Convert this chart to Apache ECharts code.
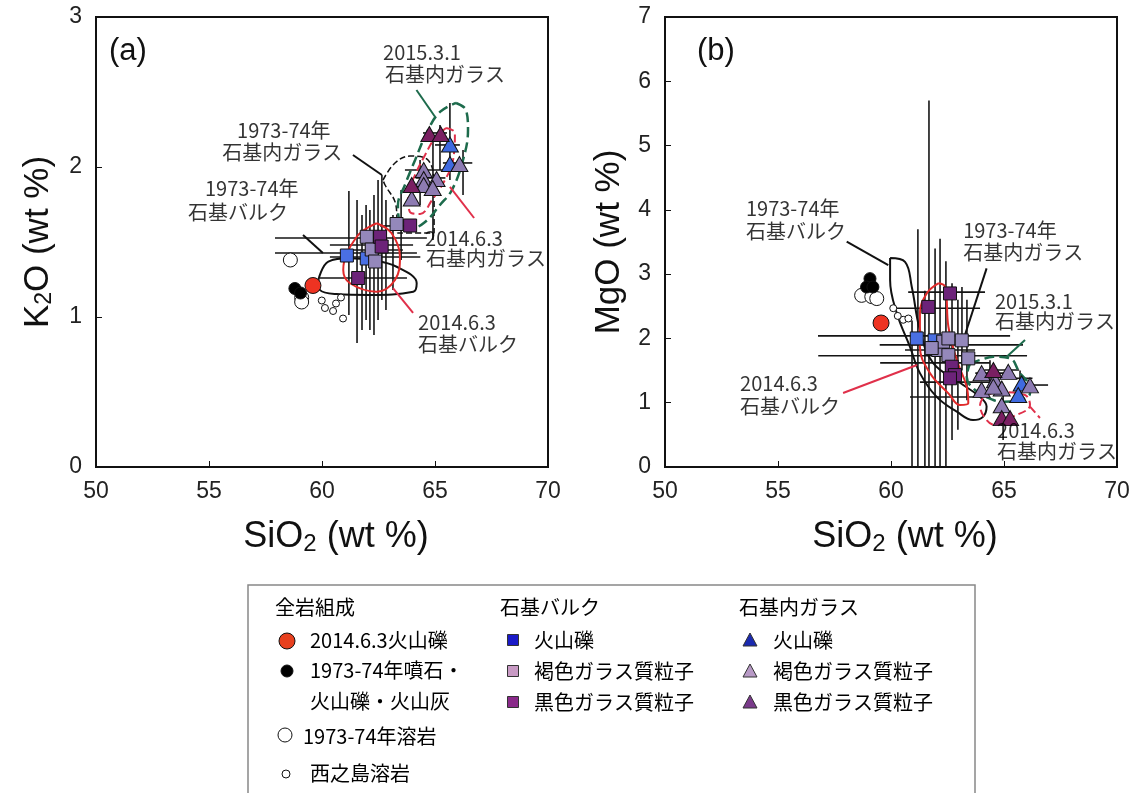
<!DOCTYPE html>
<html>
<head>
<meta charset="utf-8">
<script src="https://cdn.jsdelivr.net/npm/echarts@6/dist/echarts.min.js"></script>
<style>
  html, body { margin: 0; background: #fff; }
  #main { width: 1137px; height: 793px; }
</style>
</head>
<body>
<div id="main"></div>
<script>
// ---- panel (a): SiO2 vs K2O ----
var wrRedA = [[59.6, 1.21]];
var wrBlackA = [[58.8, 1.19], [59.05, 1.16]];
var wrOpenA = [[58.6, 1.38], [59.1, 1.13], [59.1, 1.10]];
var wrSmallA = [[59.99, 1.11], [60.13, 1.06], [60.49, 1.04], [60.62, 1.09], [60.84, 1.13], [60.93, 0.99]];
var sqBlueA = [[61.1, 1.41], [61.98, 1.39]];
var sqLightA = [[61.98, 1.535], [62.2, 1.45], [62.35, 1.37], [63.3, 1.62]];
var sqDarkA = [[61.6, 1.26], [62.57, 1.535], [62.64, 1.47], [63.9, 1.61]];
var triBlueA = [[65.66, 2.15], [65.66, 2.02]];
var triLightA = [[66.08, 2.02], [64.5, 1.98], [64.5, 1.92], [65.07, 1.92], [64.5, 1.88], [64.9, 1.86], [63.97, 1.79]];
var triDarkA = [[64.75, 2.22], [65.25, 2.22], [63.97, 1.88]];
// error bars: [x, y, xerr, yerr]
var errA = [
  [61.28, 1.527, 3.36, 0], [62.19, 1.48, 1.84, 0], [62.34, 1.447, 1.24, 0], [61.06, 1.427, 3.14, 0],
  [62.35, 1.40, 2.0, 0], [61.83, 1.26, 1.93, 0], [65.0, 2.227, 0.53, 0], [65.55, 2.147, 0.55, 0],
  [66.0, 2.027, 0.65, 0], [64.55, 1.98, 0.88, 0], [64.8, 1.927, 0.66, 0], [63.23, 1.607, 0.66, 0],
  [61.19, 1.427, 0, 0.413], [61.55, 1.303, 0, 0.477], [61.77, 1.297, 0, 0.383], [61.95, 1.363, 0, 0.383],
  [62.12, 1.313, 0, 0.4], [62.30, 1.347, 0, 0.467], [62.48, 1.447, 0, 0.467], [62.65, 1.53, 0, 0.417],
  [62.83, 1.413, 0, 0.367], [63.14, 1.43, 0, 0.25], [63.5, 1.613, 0, 0.233], [64.91, 1.857, 0, 0.343],
  [65.66, 2.17, 0, 0.257], [66.24, 1.963, 0, 0.15], [64.34, 1.897, 0, 0.15], [65.22, 2.13, 0, 0.15]
];
// outlines
var bulk7374A = [[59.84, 1.247], [60.28, 1.369], [61.24, 1.391], [62.12, 1.38], [63.3, 1.335], [64.19, 1.225],
  [64.04, 1.169], [62.12, 1.147], [60.65, 1.153], [59.91, 1.18]];
var glass7374A = [[62.7, 1.913], [63.23, 2.027], [63.89, 2.073], [64.69, 2.047], [64.96, 1.847], [64.96, 1.56],
  [63.36, 1.56], [63.27, 1.747], [62.79, 1.88]];
var bulk2014A = [[62.42, 1.625], [63.08, 1.558], [63.45, 1.402], [63.23, 1.247], [62.42, 1.169], [61.24, 1.225],
  [60.94, 1.313], [61.54, 1.535]];
var glass2014A = [[65.49, 2.26], [65.88, 2.227], [65.8, 2.047], [65.44, 1.913], [64.87, 1.78], [64.34, 1.687],
  [63.89, 1.70], [63.81, 1.813], [64.12, 1.947], [64.56, 2.08], [65.0, 2.193]];
var glass2015A = [[65.93, 2.427], [66.37, 2.38], [66.46, 2.247], [66.24, 2.047], [65.75, 1.847], [65.22, 1.747],
  [64.56, 1.633], [63.98, 1.593], [63.45, 1.633], [63.36, 1.747], [63.67, 1.88], [64.12, 2.047], [64.69, 2.247], [65.22, 2.367]];
var leadA = [
  { color: '#1d6b4c', type: 'solid', pts: [[64.18, 2.513], [65.0, 2.335]] },
  { color: '#111', type: 'solid', pts: [[61.37, 2.08], [62.65, 1.947]] },
  { color: '#111', type: 'solid', pts: [[59.16, 1.547], [60.04, 1.427]] },
  { color: '#e0304a', type: 'solid', pts: [[65.66, 1.867], [66.73, 1.66]] },
  { color: '#e0304a', type: 'solid', pts: [[63.14, 1.193], [64.03, 1.027]] }
];
var notesA = [
  [62.70, 2.767, '2015.3.1'], [62.79, 2.62, '石基内ガラス'],
  [56.24, 2.247, '1973-74年'], [55.58, 2.10, '石基内ガラス'],
  [54.82, 1.86, '1973-74年'], [54.07, 1.70, '石基バルク'],
  [64.56, 1.527, '2014.6.3'], [64.60, 1.393, '石基内ガラス'],
  [64.25, 0.967, '2014.6.3'], [64.25, 0.82, '石基バルク']
];

// ---- panel (b): SiO2 vs MgO ----
var wrRedB = [[59.56, 2.24]];
var wrBlackB = [[59.07, 2.93], [58.92, 2.80], [59.2, 2.80]];
var wrOpenB = [[58.7, 2.67], [59.15, 2.65], [59.37, 2.62]];
var wrSmallB = [[60.1, 2.47], [60.54, 2.29], [60.77, 2.31], [60.3, 2.35]];
var sqBlueB = [[61.14, 2.0], [61.93, 1.97]];
var sqLightB = [[62.09, 1.82], [62.31, 1.95], [62.54, 1.74], [62.54, 2.0], [61.8, 1.85], [63.13, 1.97], [63.42, 1.69]];
var sqDarkB = [[61.65, 2.49], [62.61, 2.70], [62.69, 1.56], [62.83, 1.43], [62.61, 1.38]];
var triBlueB = [[65.78, 1.30], [65.63, 1.12]];
var triLightB = [[64.01, 1.46], [65.19, 1.48], [64.6, 1.35], [64.9, 1.22], [64.01, 1.2], [66.15, 1.27], [64.9, 0.96], [64.53, 1.25]];
var triDarkB = [[64.53, 1.51], [64.9, 0.76], [65.27, 0.76]];
var errB = [
  [62.46, 2.72, 1.7, 0], [62.06, 2.47, 1.88, 0], [61.02, 2.04, 4.25, 0], [62.67, 1.90, 3.17, 0],
  [61.4, 1.73, 4.62, 0], [61.95, 1.62, 2.43, 0], [62.83, 1.32, 1.55, 0], [62.39, 1.09, 1.55, 0],
  [64.5, 1.46, 0.77, 0], [66.33, 1.275, 0.62, 0], [64.9, 1.51, 0.77, 0], [65.6, 1.38, 0.66, 0], [62.17, 1.82, 1.55, 0],
  [61.68, 2.6, 0, 3.1], [61.19, 1.7, 0, 2.0], [61.95, 1.55, 0, 1.85], [62.17, 1.6, 0, 1.95],
  [62.43, 1.5, 0, 1.7], [62.7, 1.64, 0, 1.22], [62.96, 1.59, 0, 1.01], [63.14, 2.15, 0, 0.65],
  [63.36, 1.82, 0, 0.78], [61.5, 1.27, 0, 1.47], [60.93, 1.04, 0, 1.24], [64.96, 0.77, 0, 0.35],
  [64.38, 1.39, 0, 0.27], [65.71, 1.27, 0, 0.23]
];
var bulk7374B = [[59.96, 3.25], [60.62, 3.19], [60.92, 2.80], [61.28, 2.13], [61.86, 1.62], [63.05, 1.31],
  [63.94, 1.09], [64.23, 0.94], [64.07, 0.78], [63.63, 0.73], [62.91, 0.86], [62.02, 1.09], [61.28, 1.46],
  [60.84, 1.87], [60.25, 2.40], [59.96, 2.91]];
var bulk2014B = [[62.09, 2.857], [62.39, 2.804], [62.54, 2.182], [62.91, 1.664], [63.35, 1.249], [63.42, 0.991],
  [63.05, 0.964], [62.54, 1.146], [61.73, 1.457], [61.28, 1.871], [61.28, 2.39], [61.58, 2.70]];
var glass2015B = [[63.5, 1.613], [63.94, 1.664], [64.53, 1.715], [65.27, 1.69], [65.71, 1.457], [66.08, 1.302],
  [66.15, 1.146], [65.71, 1.042], [64.97, 1.016], [64.53, 1.042], [63.72, 1.198], [63.35, 1.404]];
var glass2014B = [[64.16, 1.12], [64.82, 1.166], [65.93, 1.12], [66.15, 0.964], [65.27, 0.762], [64.6, 0.653],
  [64.16, 0.762], [63.94, 0.964]];
var leadB = [
  { color: '#111', type: 'solid', pts: [[58.04, 3.504], [59.88, 3.142]] },
  { color: '#111', type: 'solid', pts: [[64.23, 3.09], [63.2, 1.975]] },
  { color: '#1d6b4c', type: 'solid', pts: [[65.93, 1.975], [65.12, 1.715]] },
  { color: '#e0304a', type: 'solid', pts: [[57.88, 1.151], [61.15, 1.586]] },
  { color: '#e0304a', type: 'dashed', pts: [[66.15, 0.938], [66.59, 0.762]] }
];
var notesB = [
  [53.58, 4.028, '1973-74年'], [53.58, 3.67, '石基バルク'],
  [63.19, 3.686, '1973-74年'], [63.19, 3.344, '石基内ガラス'],
  [64.6, 2.58, '2015.3.1'], [64.6, 2.27, '石基内ガラス'],
  [53.32, 1.306, '2014.6.3'], [53.32, 0.949, '石基バルク'],
  [64.69, 0.575, '2014.6.3'], [64.69, 0.249, '石基内ガラス']
];

var xTicks = [50, 55, 60, 65, 70];

var RED = '#ee3322', BLUE = '#4a6fe3', LIGHT = '#9488bb', DARK = '#6c2379';
var TBLUE = '#3f6ae0', TLIGHT = '#8d7bb2', TDARK = '#7a1f62';
var TRI = 'path://M0,-10L10,8L-10,8Z';

function closed(p) { return p.concat([p[0]]); }

function pts(name, data, gi, symbol, size, color) {
  return {
    name: name, type: 'scatter', xAxisIndex: gi, yAxisIndex: gi, data: data,
    symbol: symbol, symbolSize: size, z: 6,
    itemStyle: { color: color, borderColor: '#111', borderWidth: 1, opacity: 1 }
  };
}

function outline(data, gi, color, width, type) {
  return {
    type: 'line', xAxisIndex: gi, yAxisIndex: gi, data: closed(data), smooth: 0.4,
    symbol: 'none', silent: true, z: 4,
    lineStyle: { color: color, width: width, type: type }
  };
}

function errBars(data, gi) {
  return {
    type: 'custom', xAxisIndex: gi, yAxisIndex: gi, data: data, clip: true, z: 3, silent: true,
    encode: { x: 0, y: 1 },
    renderItem: function (params, api) {
      var x = api.value(0), y = api.value(1), ex = api.value(2), ey = api.value(3);
      var kids = [];
      if (ex > 0) {
        var a = api.coord([x - ex, y]), b = api.coord([x + ex, y]);
        kids.push({ type: 'line', shape: { x1: a[0], y1: a[1], x2: b[0], y2: b[1] }, style: { stroke: '#151515', lineWidth: 1.6 } });
      }
      if (ey > 0) {
        var c = api.coord([x, y - ey]), d = api.coord([x, y + ey]);
        kids.push({ type: 'line', shape: { x1: c[0], y1: c[1], x2: d[0], y2: d[1] }, style: { stroke: '#151515', lineWidth: 1.6 } });
      }
      return { type: 'group', children: kids };
    }
  };
}

function leaders(list, gi) {
  return list.map(function (l) {
    return {
      type: 'line', xAxisIndex: gi, yAxisIndex: gi, data: l.pts, symbol: 'none', silent: true, z: 4,
      lineStyle: { color: l.color, width: 2, type: l.type }
    };
  });
}

function notes(list, gi) {
  return {
    type: 'scatter', xAxisIndex: gi, yAxisIndex: gi, symbolSize: 0.1, silent: true, z: 7,
    itemStyle: { color: 'rgba(0,0,0,0)' },
    data: list.map(function (n) { return { name: n[2], value: [n[0], n[1]] }; }),
    label: {
      show: true, position: 'right', distance: 0, formatter: '{b}',
      fontSize: 20, fontFamily: 'Noto Sans CJK JP', color: '#000'
    }
  };
}

function panelSeries(gi, d) {
  var s = [errBars(d.err, gi)];
  d.lines.forEach(function (o) { s.push(outline(o[0], gi, o[1], o[2], o[3])); });
  s = s.concat(leaders(d.lead, gi));
  s.push(pts('西之島溶岩', d.small, gi, 'circle', 7, '#fff'));
  s.push(pts('1973-74年溶岩', d.open, gi, 'circle', 14, '#fff'));
  s.push(pts('1973-74年噴石・火山礫・火山灰', d.black, gi, 'circle', 12, '#000'));
  s.push(pts('2014.6.3火山礫', d.red, gi, 'circle', 16, RED));
  s.push(pts('石基バルク 火山礫', d.sqBlue, gi, 'rect', 13, BLUE));
  s.push(pts('石基バルク 褐色ガラス質粒子', d.sqLight, gi, 'rect', 13, LIGHT));
  s.push(pts('石基バルク 黒色ガラス質粒子', d.sqDark, gi, 'rect', 13, DARK));
  s.push(pts('石基内ガラス 火山礫', d.triBlue, gi, TRI, [17, 15], TBLUE));
  s.push(pts('石基内ガラス 褐色ガラス質粒子', d.triLight, gi, TRI, [17, 15], TLIGHT));
  s.push(pts('石基内ガラス 黒色ガラス質粒子', d.triDark, gi, TRI, [17, 15], TDARK));
  s.push(notes(d.notes, gi));
  return s;
}

var series = panelSeries(0, {
  err: errA, lead: leadA, notes: notesA,
  lines: [[bulk7374A, '#111', 2, 'solid'], [glass7374A, '#111', 1.5, 'dashed'], [bulk2014A, '#e02a2a', 2, 'solid'],
          [glass2014A, '#e0304a', 2, 'dashed'], [glass2015A, '#1d6b4c', 2.5, 'dashed']],
  small: wrSmallA, open: wrOpenA, black: wrBlackA, red: wrRedA,
  sqBlue: sqBlueA, sqLight: sqLightA, sqDark: sqDarkA, triBlue: triBlueA, triLight: triLightA, triDark: triDarkA
}).concat(panelSeries(1, {
  err: errB, lead: leadB, notes: notesB,
  lines: [[bulk7374B, '#111', 2, 'solid'], [bulk2014B, '#e02a2a', 2, 'solid'],
          [glass2014B, '#e0304a', 2, 'dashed'], [glass2015B, '#1d6b4c', 2.5, 'dashed']],
  small: wrSmallB, open: wrOpenB, black: wrBlackB, red: wrRedB,
  sqBlue: sqBlueB, sqLight: sqLightB, sqDark: sqDarkB, triBlue: triBlueB, triLight: triLightB, triDark: triDarkB
}));

var AX_FONT = 'Liberation Sans';
var xRich = {
  n: { fontSize: 36, fontFamily: AX_FONT, color: '#111' },
  s: { fontSize: 24, fontFamily: AX_FONT, color: '#111', padding: [13, 0, 0, 0] }
};
var yRich = {
  n: { fontSize: 35, fontFamily: AX_FONT, color: '#111' },
  s: { fontSize: 23, fontFamily: AX_FONT, color: '#111', padding: [13, 0, 0, 0] }
};

function xAx(gi) {
  return {
    gridIndex: gi, type: 'value', min: xTicks[0], max: xTicks[xTicks.length - 1], interval: 5,
    name: '{n|SiO}{s|2}{n| (wt %)}', nameLocation: 'middle', nameGap: 52,
    nameTextStyle: { rich: xRich, padding: [0, 0, 0, 28] },
    axisLine: { show: true, onZero: false, lineStyle: { color: '#111', width: 2 } },
    axisTick: { show: true, inside: true, length: 6, lineStyle: { color: '#111', width: 1 } },
    axisLabel: { fontSize: 23, fontFamily: AX_FONT, color: '#222', margin: 13 },
    splitLine: { show: false }
  };
}
function yAx(gi, max, nm, gap) {
  return {
    gridIndex: gi, type: 'value', min: 0, max: max, interval: 1,
    name: nm, nameLocation: 'middle', nameGap: gap,
    nameTextStyle: { rich: yRich },
    axisLine: { show: true, lineStyle: { color: '#111', width: 2 } },
    axisTick: { show: true, inside: true, length: 6, lineStyle: { color: '#111', width: 1 } },
    axisLabel: { fontSize: 23, fontFamily: AX_FONT, color: '#222', margin: 14 },
    splitLine: { show: false }
  };
}

// legend (drawn as graphic, three grouped columns)
var LEG_FONT = '20px "Noto Sans CJK JP"';
function ltext(x, y, t) {
  return { type: 'text', x: x, y: y, style: { text: t, font: LEG_FONT, fill: '#000', verticalAlign: 'middle' } };
}
function lcircle(x, y, r, fill) {
  return { type: 'circle', shape: { cx: x, cy: y, r: r }, style: { fill: fill, stroke: '#111', lineWidth: 1 } };
}
function lrect(x, y, s, fill) {
  return { type: 'rect', shape: { x: x - s / 2, y: y - s / 2, width: s, height: s }, style: { fill: fill, stroke: '#333', lineWidth: 1 } };
}
function ltri(x, y, fill) {
  return { type: 'polygon', shape: { points: [[x, y - 7], [x + 7, y + 6], [x - 7, y + 6]] }, style: { fill: fill, stroke: '#333', lineWidth: 1 } };
}

var legendGraphic = [
  { type: 'rect', shape: { x: 248, y: 585, width: 727, height: 220 }, style: { fill: '#fff', stroke: '#888', lineWidth: 1.5 } },
  ltext(275, 607, '全岩組成'), ltext(500, 607, '石基バルク'), ltext(739, 607, '石基内ガラス'),
  lcircle(287, 641, 8, '#e8401e'), ltext(310, 640, '2014.6.3火山礫'),
  lcircle(287, 671, 6, '#000'), ltext(310, 670, '1973-74年噴石・'), ltext(310, 701, '火山礫・火山灰'),
  lcircle(285, 735, 7, '#fff'), ltext(303, 736, '1973-74年溶岩'),
  lcircle(286, 774, 4, '#fff'), ltext(310, 773, '西之島溶岩'),
  lrect(513, 640, 11, '#1a1ac8'), ltext(534, 640, '火山礫'),
  lrect(513, 671, 11, '#c89ac4'), ltext(534, 671, '褐色ガラス質粒子'),
  lrect(513, 702, 11, '#8a2a8a'), ltext(534, 702, '黒色ガラス質粒子'),
  ltri(750, 640, '#1a2ab0'), ltext(773, 640, '火山礫'),
  ltri(750, 671, '#b89ac6'), ltext(773, 671, '褐色ガラス質粒子'),
  ltri(750, 702, '#7a3a8a'), ltext(773, 702, '黒色ガラス質粒子'),
  { type: 'text', x: 109, y: 51, style: { text: '(a)', font: '31px "Liberation Sans"', fill: '#111', verticalAlign: 'middle' } },
  { type: 'text', x: 697, y: 51, style: { text: '(b)', font: '31px "Liberation Sans"', fill: '#111', verticalAlign: 'middle' } }
];

var chart = echarts.init(document.getElementById('main'));
chart.setOption({
  animation: false,
  backgroundColor: '#fff',
  grid: [
    { left: 96, top: 17, width: 452, height: 450, show: true, borderColor: '#111', borderWidth: 2, backgroundColor: 'transparent' },
    { left: 665, top: 17, width: 452, height: 450, show: true, borderColor: '#111', borderWidth: 2, backgroundColor: 'transparent' }
  ],
  xAxis: [xAx(0), xAx(1)],
  yAxis: [yAx(0, 3, '{n|K}{s|2}{n|O (wt %)}', 40), yAx(1, 7, '{n|MgO (wt %)}', 38)],
  graphic: legendGraphic,
  series: series
});
</script>
</body>
</html>
